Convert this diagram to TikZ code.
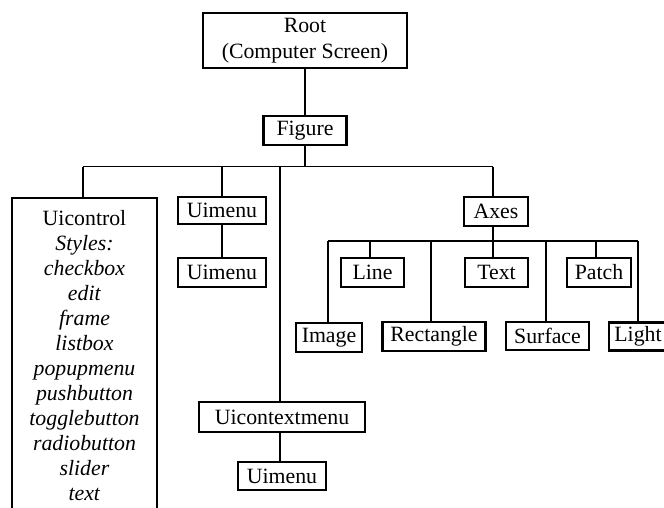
\documentclass[tikz,border=0pt]{standalone}
\usepackage{fontspec}
\setmainfont{Liberation Serif}
\begin{document}
\begin{tikzpicture}[x=1pt,y=-1pt,
  every node/.style={font=\fontsize{21.8}{25}\selectfont},
  boxnode/.style={draw, line width=2.2pt, inner sep=0pt, minimum height=29pt},
  conn/.style={line width=1.8pt}]
\useasboundingbox (0,0) rectangle (664,507);
% top
\node[boxnode, minimum width=204pt, minimum height=55pt, align=center, font=\fontsize{21.8}{26}\selectfont] (root) at (305,40.5) {Root\\(Computer Screen)};
\node[boxnode, minimum width=83pt] (figure) at (305,130.5) {Figure};
% first level bus
\coordinate (b1) at (83,166.5);
\coordinate (b2) at (222,166.5);
\coordinate (b3) at (280,166.5);
\coordinate (b4) at (493,166.5);
\draw[conn] (root.south) -- (figure.north);
\draw[conn] (figure.south) -- (figure.south |- b1);
\draw[conn] (b1) -- (b4);
% Uicontrol
\node[draw=none, inner sep=0pt, minimum width=145pt, minimum height=330pt, anchor=north] (uicbox) at (84.5,198) {};
\draw[line width=2.2pt] (uicbox.south west) -- (uicbox.north west) -- (uicbox.north east) -- (uicbox.south east);
\node[inner sep=0pt, anchor=north, align=center] (uictext) at (84.5,210.3)
  {Uicontrol\\\textit{Styles:}\\\textit{checkbox}\\\textit{edit}\\\textit{frame}\\\textit{listbox}\\\textit{popupmenu}\\\textit{pushbutton}\\\textit{togglebutton}\\\textit{radiobutton}\\\textit{slider}\\\textit{text}};
\draw[conn] (b1) -- (b1 |- uicbox.north);
% Uimenu column
\node[boxnode, minimum width=88pt, minimum height=27pt] (uimenuA) at (222,210.5) {Uimenu};
\node[boxnode, minimum width=88pt] (uimenuB) at (222,272.5) {Uimenu};
\draw[conn] (b2) -- (uimenuA.north);
\draw[conn] (uimenuA.south) -- (uimenuB.north);
% Uicontextmenu column
\node[boxnode, minimum width=166pt, minimum height=30pt] (uicm) at (282,417) {Uicontextmenu};
\node[boxnode, minimum width=88pt, minimum height=28pt] (uimenuC) at (282,476) {Uimenu};
\draw[conn] (b3) -- (b3 |- uicm.north);
\draw[conn] (b3 |- uicm.south) -- (b3 |- uimenuC.north);
% Axes
\node[boxnode, minimum width=64pt] (axes) at (496,211.5) {Axes};
\draw[conn] (b4) -- (b4 |- axes.north);
\coordinate (a1) at (328,241);
\coordinate (a2) at (370,241);
\coordinate (a3) at (431,241);
\coordinate (a4) at (493,241);
\coordinate (a5) at (546,241);
\coordinate (a6) at (596,241);
\coordinate (a7) at (638,241);
\draw[conn] (a4 |- axes.south) -- (a4);
\draw[conn] (a1) -- (a7);
\node[boxnode, minimum width=63pt] (line) at (372.5,272.5) {Line};
\node[boxnode, minimum width=63pt] (text) at (496.5,272.5) {Text};
\node[boxnode, minimum width=64pt] (patch) at (599,272.5) {Patch};
\node[boxnode, minimum width=66pt] (image) at (329,337.5) {Image};
\node[boxnode, minimum width=103pt] (rect) at (434,336.5) {Rectangle};
\node[boxnode, minimum width=83pt, minimum height=28pt] (surface) at (547.5,336) {Surface};
\node[boxnode, minimum width=58pt, minimum height=28pt] (light) at (638,336.5) {Light};
\draw[conn] (a2) -- (a2 |- line.north);
\draw[conn] (a4) -- (a4 |- text.north);
\draw[conn] (a6) -- (a6 |- patch.north);
\draw[conn] (a1) -- (a1 |- image.north);
\draw[conn] (a3) -- (a3 |- rect.north);
\draw[conn] (a5) -- (a5 |- surface.north);
\draw[conn] (a7) -- (a7 |- light.north);
\end{tikzpicture}
\end{document}
